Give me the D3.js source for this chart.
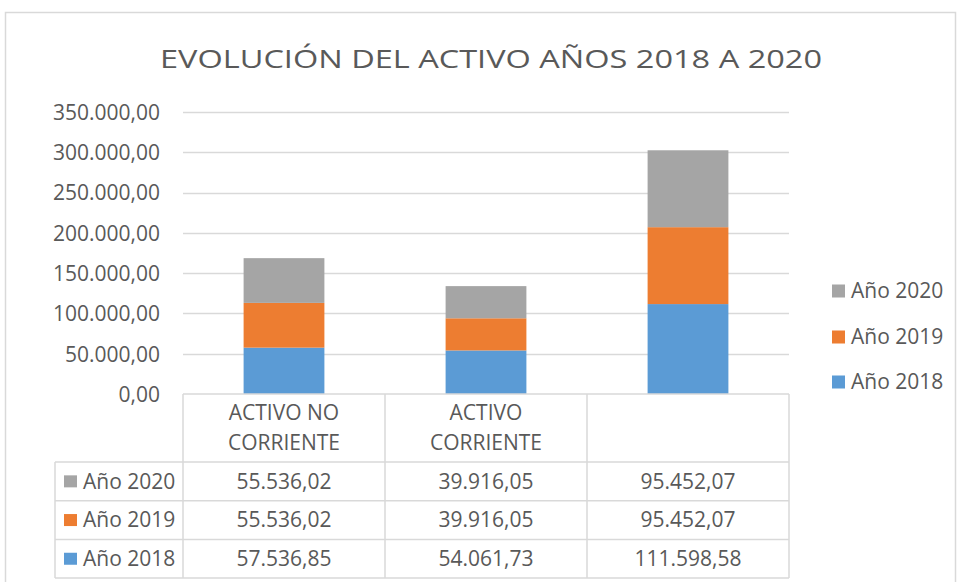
<!DOCTYPE html>
<html>
<head>
<meta charset="utf-8">
<script src="https://cdn.jsdelivr.net/npm/d3@7"></script>
<style>
  html, body { margin: 0; padding: 0; background: #ffffff; }
  svg { display: block; }
  text { font-family: "Open Sans", "Noto Sans", sans-serif; fill: #595959; }
</style>
</head>
<body>
<svg id="chart" width="957" height="582"></svg>
<script>
// ---- Data ----
const title = "EVOLUCIÓN  DEL ACTIVO AÑOS 2018 A 2020";
const categories = ["ACTIVO NO CORRIENTE", "ACTIVO CORRIENTE", ""];
const categoryLines = [["ACTIVO NO", "CORRIENTE"], ["ACTIVO", "CORRIENTE"], []];
const seriesNames = ["Año 2018", "Año 2019", "Año 2020"];
const values2018 = [57536.85, 54061.73, 111598.58];
const values2019 = [55536.02, 39916.05, 95452.07];
const values2020 = [55536.02, 39916.05, 95452.07];
const yTicks = [0, 50000, 100000, 150000, 200000, 250000, 300000, 350000];
const seriesColors = ["#5B9BD5", "#ED7D31", "#A5A5A5"];

// ---- Setup ----
const svg = d3.select("#chart");
const esLocale = d3.formatLocale({ decimal: ",", thousands: ".", grouping: [3], currency: ["", " €"] });
const fmt = esLocale.format(",.2f");

const seriesValues = [values2018, values2019, values2020];
const rows = categories.map((c, i) => {
  const o = { cat: c };
  seriesNames.forEach((s, j) => o[s] = seriesValues[j][i]);
  return o;
});
const stacked = d3.stack().keys(seriesNames)(rows);

const plotLeft = 183, plotRight = 789, plotTop = 112, plotBottom = 394;
const y = d3.scaleLinear().domain([0, 350000]).range([plotBottom, plotTop]);
const x = d3.scaleBand().domain(categories.map((c, i) => i)).range([plotLeft, plotRight]).padding(0);
const barW = x.bandwidth() * 0.4;
const fs = "21px";

// chart border
svg.append("rect").attr("x", 5.5).attr("y", 12.5).attr("width", 950).attr("height", 600)
  .attr("fill", "none").attr("stroke", "#D9D9D9").attr("stroke-width", 1.5);

// title
svg.append("text").attr("x", 491).attr("y", 68).attr("text-anchor", "middle")
  .style("font-size", "26px").style("font-weight", 400).attr("textLength", 662)
  .attr("lengthAdjust", "spacingAndGlyphs").text(title);

// gridlines
svg.append("g").selectAll("line").data(yTicks.filter(d => d > 0)).join("line")
  .attr("x1", plotLeft).attr("x2", plotRight)
  .attr("y1", d => Math.round(y(d)) + 0.5).attr("y2", d => Math.round(y(d)) + 0.5)
  .attr("stroke", "#D9D9D9").attr("stroke-width", 1.5);

// y axis labels
const yAxis = d3.axisLeft(y).tickValues(yTicks).tickFormat(fmt).tickSize(0).tickPadding(0);
const yg = svg.append("g").attr("transform", "translate(160,0)").call(yAxis);
yg.select(".domain").remove();
yg.selectAll("text").style("font-size", fs).style("font-family", "'Open Sans', sans-serif")
  .attr("fill", "#595959").attr("dy", "0.35em");

// bars
svg.append("g").selectAll("g").data(stacked).join("g")
  .attr("fill", (d, i) => seriesColors[i])
  .selectAll("rect").data(d => d).join("rect")
  .attr("x", (d, i) => x(i) + (x.bandwidth() - barW) / 2)
  .attr("width", barW)
  .attr("y", d => y(d[1]))
  .attr("height", d => y(d[0]) - y(d[1]));

// ---- Data table ----
const headerBottom = 462;
const rowH = 38.7;
const tableLeft = 55;
const tableRows = [seriesNames[2], seriesNames[1], seriesNames[0]];
const tableBottom = headerBottom + rowH * tableRows.length;
const tg = svg.append("g");
const lineStyle = sel => sel.attr("stroke", "#D9D9D9").attr("stroke-width", 1.5).attr("fill", "none");

tg.append("line").attr("x1", plotLeft).attr("x2", plotRight).attr("y1", plotBottom).attr("y2", plotBottom).call(lineStyle);
[0, 1, 2, 3].forEach(k => {
  const yy = headerBottom + rowH * k;
  tg.append("line").attr("x1", tableLeft).attr("x2", plotRight).attr("y1", yy).attr("y2", yy).call(lineStyle);
});
tg.append("line").attr("x1", tableLeft).attr("x2", tableLeft).attr("y1", headerBottom).attr("y2", tableBottom).call(lineStyle);
categories.forEach((c, i) => {
  tg.append("line").attr("x1", x(i)).attr("x2", x(i)).attr("y1", plotBottom).attr("y2", tableBottom).call(lineStyle);
});
tg.append("line").attr("x1", plotRight).attr("x2", plotRight).attr("y1", plotBottom).attr("y2", tableBottom).call(lineStyle);

// header labels
categoryLines.forEach((lines, i) => {
  lines.forEach((ln, k) => {
    tg.append("text").attr("x", x(i) + x.bandwidth() / 2).attr("y", 413 + k * 30)
      .attr("dy", "0.35em").attr("text-anchor", "middle").style("font-size", fs).text(ln);
  });
});

// rows
tableRows.forEach((s, r) => {
  const cy = headerBottom + rowH * r + rowH / 2;
  const si = seriesNames.indexOf(s);
  tg.append("rect").attr("x", 64).attr("y", cy - 6).attr("width", 13).attr("height", 12).attr("fill", seriesColors[si]);
  tg.append("text").attr("x", 83).attr("y", cy).attr("dy", "0.35em").style("font-size", fs).text(s);
  categories.forEach((c, i) => {
    tg.append("text").attr("x", x(i) + x.bandwidth() / 2).attr("y", cy).attr("dy", "0.35em")
      .attr("text-anchor", "middle").style("font-size", fs).text(fmt(seriesValues[si][i]));
  });
});

// ---- Legend ----
const legendY = [291, 337, 382];
const lg = svg.append("g");
tableRows.forEach((s, k) => {
  const si = seriesNames.indexOf(s);
  lg.append("rect").attr("x", 832).attr("y", legendY[k] - 6.5).attr("width", 13).attr("height", 13).attr("fill", seriesColors[si]);
  lg.append("text").attr("x", 851).attr("y", legendY[k]).attr("dy", "0.35em").style("font-size", fs).text(s);
});
</script>
</body>
</html>
